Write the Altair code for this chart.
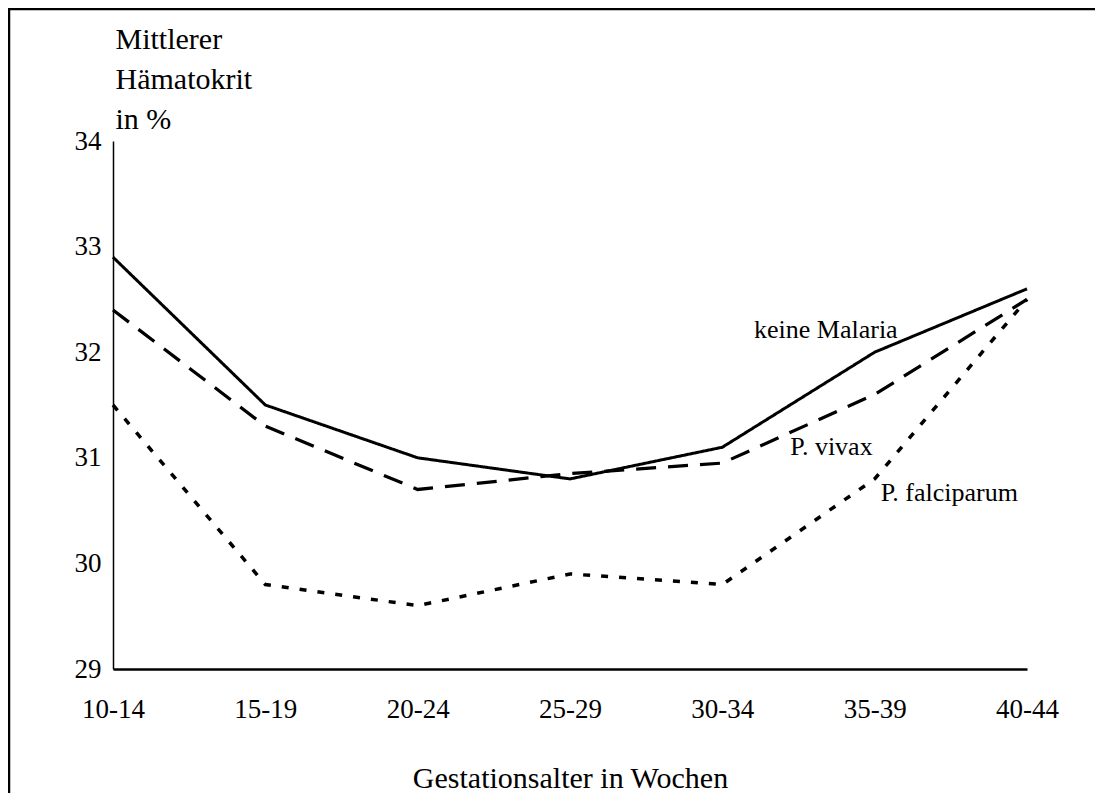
import altair as alt
import pandas as pd

categories = ["10-14", "15-19", "20-24", "25-29", "30-34", "35-39", "40-44"]
keine_malaria = [32.9, 31.5, 31.0, 30.8, 31.1, 32.0, 32.6]
p_vivax = [32.4, 31.3, 30.7, 30.85, 30.95, 31.6, 32.5]
p_falciparum = [31.5, 29.8, 29.6, 29.9, 29.8, 30.8, 32.5]
series_names = ["keine Malaria", "P. vivax", "P. falciparum"]
y_ticks = [29, 30, 31, 32, 33, 34]

rows = []
for name, vals in zip(series_names, [keine_malaria, p_vivax, p_falciparum]):
    for c, v in zip(categories, vals):
        rows.append({"Serie": name, "Gruppe": c, "Wert": v})
df = pd.DataFrame(rows)

FONT = "Liberation Serif"

x_enc = alt.X(
    "Gruppe:N",
    sort=categories,
    scale=alt.Scale(type="point", padding=0),
    axis=alt.Axis(
        title="Gestationsalter in Wochen",
        titleFont=FONT, titleFontSize=30, titleFontWeight="normal",
        titleColor="black", titleBaseline="alphabetic", titleY=118,
        labelFont=FONT, labelFontSize=27, labelColor="black",
        labelAngle=0, labelPadding=27, labelBaseline="top",
        ticks=False, tickSize=0, grid=False,
        domainColor="black", domainWidth=2.5,
    ),
)
y_enc = alt.Y(
    "Wert:Q",
    scale=alt.Scale(domain=[29, 34], nice=False, zero=False),
    axis=alt.Axis(
        values=y_ticks,
        format="d",
        title=["Mittlerer", "Hämatokrit", "in %"],
        titleFont=FONT, titleFontSize=30, titleFontWeight="normal",
        titleColor="black", titleAngle=0, titleAlign="left",
        titleBaseline="alphabetic", titleX=2, titleY=-93,
        titleLineHeight=40,
        labelFont=FONT, labelFontSize=27, labelColor="black",
        labelPadding=12, ticks=False, tickSize=0, grid=False,
        domainColor="black", domainWidth=1.5,
    ),
)

lines = alt.Chart(df).mark_line(color="black", strokeCap="butt").encode(
    x=x_enc,
    y=y_enc,
    detail="Serie:N",
    strokeDash=alt.StrokeDash(
        "Serie:N",
        scale=alt.Scale(domain=series_names, range=[[1, 0], [20, 12], [7, 11]]),
        legend=None,
    ),
    strokeWidth=alt.StrokeWidth(
        "Serie:N",
        scale=alt.Scale(domain=series_names, range=[3, 3.5, 3]),
        legend=None,
    ),
)

lab_df = df[df["Gruppe"] == "35-39"]


def label(name, align, dx, dy):
    return alt.Chart(lab_df).transform_filter(
        alt.datum.Serie == name
    ).mark_text(
        font=FONT, fontSize=26, color="black", align=align,
        baseline="alphabetic", dx=dx, dy=dy,
    ).encode(
        x=alt.X("Gruppe:N", sort=categories, scale=alt.Scale(type="point", padding=0)),
        y=alt.Y("Wert:Q", scale=alt.Scale(domain=[29, 34], nice=False, zero=False)),
        text="Serie:N",
    )


lab1 = label("keine Malaria", "right", 23, -14)
lab2 = label("P. vivax", "right", -2, 61)
lab3 = label("P. falciparum", "left", 6, 22)

frame = alt.Chart(alt.Data(values=[{"a": 1}])).mark_rect(
    filled=False, stroke="black", strokeWidth=2.5
).encode(
    x=alt.value(-104), x2=alt.value(1200),
    y=alt.value(-132), y2=alt.value(900),
)

chart = alt.layer(lines, lab1, lab2, lab3, frame).properties(
    width=914,
    height=528,
    autosize=alt.AutoSizeParams(type="none"),
    padding={"left": 105, "top": 133, "right": 68, "bottom": 124},
    background="white",
).configure_view(stroke=None)

chart.save("out.html", embed_options={"renderer": "svg", "actions": False})
